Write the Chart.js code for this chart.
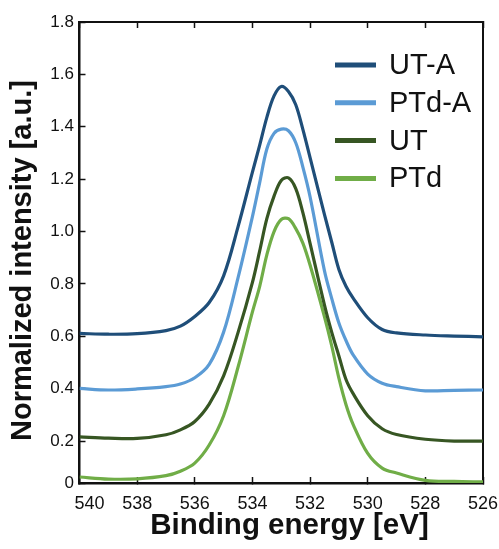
<!DOCTYPE html>
<html>
<head>
<meta charset="utf-8">
<script src="https://cdn.jsdelivr.net/npm/chart.js@4.4.0/dist/chart.umd.min.js"></script>
<style>
  html, body { margin: 0; padding: 0; background: #fff; }
  #wrap { width: 499px; height: 549px; }
</style>
</head>
<body>
<div id="wrap"><canvas id="xpsChart"></canvas></div>
<script>
// binding energy grid [eV]
const energy = [540, 539, 538, 537, 536.5, 536, 535.5, 535, 534.5, 534, 533.75, 533.5, 533.25, 533, 532.75, 532.5, 532.25, 532, 531.5, 531.25, 531, 530.75, 530.5, 530, 529.5, 529, 528, 527, 526]

// normalized intensity per sample
const utA = [0.611, 0.608, 0.610, 0.622, 0.639, 0.676, 0.729, 0.831, 1.018, 1.227, 1.329, 1.436, 1.518, 1.554, 1.535, 1.485, 1.390, 1.282, 1.065, 0.960, 0.855, 0.790, 0.745, 0.671, 0.626, 0.613, 0.605, 0.601, 0.598]
const ptdA = [0.401, 0.395, 0.399, 0.408, 0.418, 0.442, 0.493, 0.616, 0.823, 1.057, 1.186, 1.315, 1.375, 1.391, 1.385, 1.340, 1.246, 1.133, 0.850, 0.745, 0.651, 0.583, 0.528, 0.456, 0.421, 0.408, 0.392, 0.394, 0.395]
const ut = [0.216, 0.211, 0.210, 0.224, 0.243, 0.275, 0.341, 0.449, 0.614, 0.806, 0.925, 1.049, 1.135, 1.195, 1.205, 1.165, 1.072, 0.955, 0.719, 0.616, 0.525, 0.434, 0.380, 0.297, 0.247, 0.225, 0.207, 0.200, 0.200]
const ptd = [0.063, 0.055, 0.056, 0.068, 0.085, 0.116, 0.185, 0.297, 0.482, 0.693, 0.790, 0.911, 1.000, 1.046, 1.049, 1.012, 0.956, 0.872, 0.674, 0.564, 0.440, 0.338, 0.262, 0.153, 0.097, 0.078, 0.050, 0.046, 0.044]

const seriesNames = ['UT-A', 'PTd-A', 'UT', 'PTd']
const seriesValues = [utA, ptdA, ut, ptd]
const seriesColors = ['#1f4e79', '#5b9bd5', '#375623', '#70ad47']

const xTicks = [540, 538, 536, 534, 532, 530, 528, 526]
const xTickLabels = ['540', '538', '536', '534', '532', '530', '528', '526']
// axis bottom sits a little above zero in the original, labelled "0"
const yTicks = [0.04, 0.2, 0.4, 0.6, 0.8, 1.0, 1.2, 1.4, 1.6, 1.8]
const yTickLabels = ['0', '0.2', '0.4', '0.6', '0.8', '1.0', '1.2', '1.4', '1.6', '1.8']

const FONT = '"Liberation Sans", Arial, Helvetica, sans-serif'
const INK = '#111'

// legend drawn inside the plot, top right
const insideLegend = {
    id: 'insideLegend',
    afterDatasetsDraw(chart) {
        const { ctx, chartArea } = chart
        const x0 = chartArea.right - 148
        let y = chartArea.top + 43
        ctx.save()
        ctx.font = '29px ' + FONT
        ctx.textBaseline = 'middle'
        ctx.textAlign = 'left'
        ctx.lineWidth = 5
        chart.data.datasets.forEach((ds) => {
            ctx.strokeStyle = ds.borderColor
            ctx.beginPath()
            ctx.moveTo(x0, y)
            ctx.lineTo(x0 + 41, y)
            ctx.stroke()
            ctx.fillStyle = INK
            ctx.fillText(ds.label, x0 + 54, y + 1)
            y += 37.8
        })
        ctx.restore()
    }
}

const setXTicks = (scale) => {
    scale.ticks = xTicks.map((v) => ({ value: v }))
}
const setYTicks = (scale) => {
    scale.ticks = yTicks.map((v) => ({ value: v }))
}

const ctx = document.getElementById('xpsChart')

new Chart(ctx, {
    type: 'line',
    data: {
        datasets: seriesNames.map((name, i) => ({
            label: name,
            data: energy.map((e, j) => ({ x: e, y: seriesValues[i][j] })),
            borderColor: seriesColors[i],
            backgroundColor: seriesColors[i],
            borderWidth: 3.2,
            pointRadius: 0,
            tension: 0.35,
            fill: false
        }))
    },
    plugins: [insideLegend],
    options: {
        responsive: true,
        maintainAspectRatio: false,
        animation: false,
        devicePixelRatio: 1,
        layout: { padding: { top: 22, right: 16, left: 0, bottom: 0 } },
        plugins: {
            legend: { display: false },
            tooltip: { enabled: false }
        },
        scales: {
            x: {
                type: 'linear',
                position: 'bottom',
                min: 526,
                max: 540,
                reverse: true,
                afterBuildTicks: setXTicks,
                afterFit: (s) => {
                    s.height = 66
                    // keep label overhang from shrinking the plot
                    s.paddingLeft = 0
                    s.paddingRight = 0
                },
                ticks: {
                    font: { family: FONT, size: 18 },
                    color: INK,
                    padding: 16.5,
                    maxRotation: 0,
                    autoSkip: false,
                    callback: (value, index) => index === 0 ? '    ' + xTickLabels[index] : xTickLabels[index]
                },
                grid: {
                    drawOnChartArea: false,
                    drawTicks: true,
                    tickLength: -6,
                    tickWidth: 1.5,
                    tickColor: INK
                },
                border: { display: true, color: INK, width: 2.5 },
                title: {
                    display: true,
                    text: '  Binding energy [eV]',
                    color: INK,
                    font: { family: FONT, size: 29.5, weight: 'bold' },
                    padding: { top: 0, bottom: 5 }
                }
            },
            x2: {
                type: 'linear',
                position: 'top',
                min: 526,
                max: 540,
                reverse: true,
                afterBuildTicks: setXTicks,
                afterFit: (s) => {
                    s.height = 0
                    s.paddingLeft = 0
                    s.paddingRight = 0
                },
                ticks: { display: false },
                grid: {
                    drawOnChartArea: false,
                    drawTicks: true,
                    tickLength: -6,
                    tickWidth: 1.5,
                    tickColor: INK
                },
                border: { display: true, color: INK, width: 2 }
            },
            y: {
                type: 'linear',
                position: 'left',
                min: yTicks[0],
                max: 1.8,
                afterBuildTicks: setYTicks,
                afterFit: (s) => {
                    s.width = 79.5
                    s.paddingTop = 0
                    s.paddingBottom = 0
                },
                ticks: {
                    font: { family: FONT, size: 17 },
                    color: INK,
                    padding: 11.5,
                    autoSkip: false,
                    callback: (value, index) => yTickLabels[index]
                },
                grid: {
                    drawOnChartArea: false,
                    drawTicks: true,
                    tickLength: -6,
                    tickWidth: 1.5,
                    tickColor: INK
                },
                border: { display: true, color: INK, width: 2.5 },
                title: {
                    display: true,
                    text: 'Normalized intensity [a.u.]  ',
                    color: INK,
                    font: { family: FONT, size: 29, weight: 'bold' },
                    padding: { top: 5.5, bottom: 0 }
                }
            },
            y2: {
                type: 'linear',
                position: 'right',
                min: yTicks[0],
                max: 1.8,
                afterFit: (s) => {
                    s.width = 0
                    s.paddingTop = 0
                    s.paddingBottom = 0
                },
                ticks: { display: false },
                grid: { drawOnChartArea: false, drawTicks: false },
                border: { display: true, color: INK, width: 2 }
            }
        }
    }
})
</script>
</body>
</html>
